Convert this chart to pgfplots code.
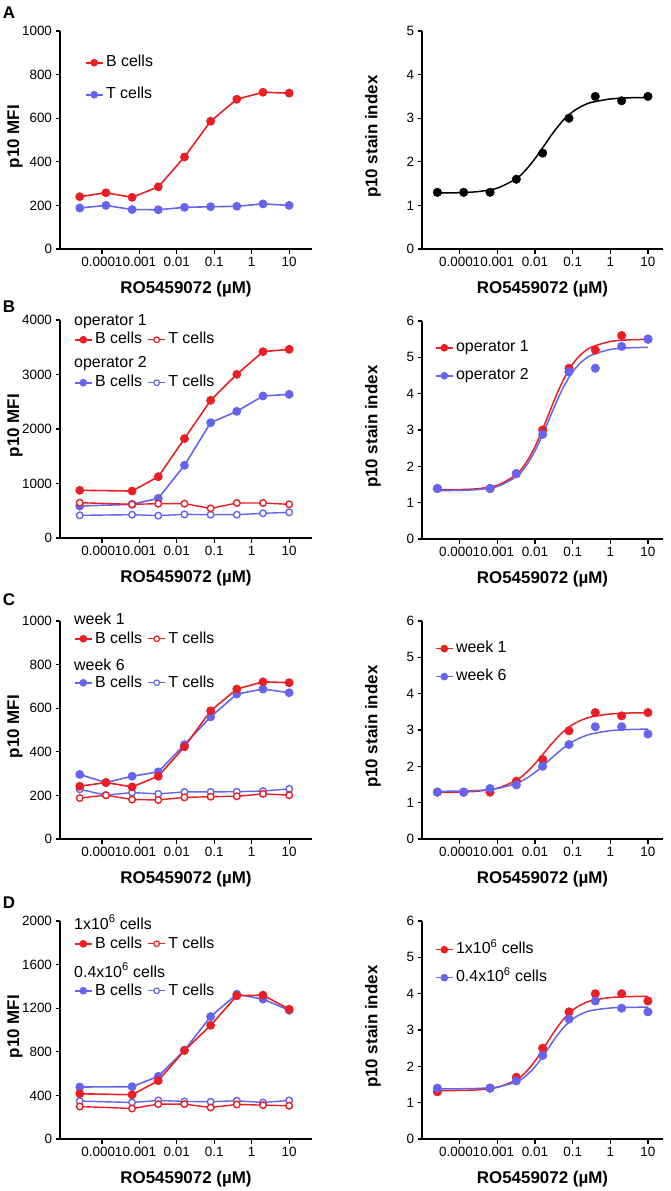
\documentclass[border=0pt]{standalone}
\usepackage{fontspec}
\setmainfont{Liberation Sans}
\usepackage{pgfplots}
\pgfplotsset{compat=1.18}
\definecolor{cred}{RGB}{235,30,36}
\definecolor{cblue}{RGB}{100,100,238}

\pgfplotsset{
 myfB/.style={#1, line width=1.6bp, mark=*, mark size=3.6bp, mark options={fill=#1}},
 myoT/.style={#1, line width=1.4bp, mark=*, mark size=3.3bp, mark options={fill=white}},
 mylgB/.style={#1, line width=1.6bp, mark=*, mark size=3bp, mark options={fill=#1}},
 mylgT/.style={#1, line width=1.2bp, mark=*, mark size=2.8bp, mark options={fill=white}},
 mypts/.style={only marks, mark=*, mark size=4.3bp, #1, mark options={fill=#1}},
 myfit/.style={#1, line width=1.5bp, smooth, no marks},
}
\pgfplotsset{every axis/.append style={
   scale only axis, height=218bp,
   axis lines=left, axis line style={-, line width=1.6bp},
   tick style={black, line width=1.3bp}, tick align=outside,
   major tick length=4.5bp, xminorticks=false, yminorticks=false,
   xtick={1e-4,1e-3,1e-2,1e-1,1,10}, xticklabels={0.0001,0.001,0.01,0.1,1,10},
   ymin=0, scaled y ticks=false,
   yticklabel style={/pgf/number format/assume math mode=true, /pgf/number format/1000 sep={}},
   tick label style={font=\fontsize{13.5}{15}\selectfont},
   xlabel={RO5459072 (µM)},
   xlabel style={font=\bfseries\fontsize{17}{19}\selectfont, at={(axis description cs:0.5,0)}, anchor=base, yshift=-44bp},
   ylabel style={font=\bfseries\fontsize{17}{19}\selectfont, anchor=center},
   clip=false,
   legend style={draw=none, fill=none, inner sep=0pt, outer sep=0pt, anchor=north west,
     font=\fontsize{16}{18}\selectfont,
     nodes={inner ysep=0pt, inner xsep=2.5bp, text height=12bp, text depth=3.5bp},
     /tikz/every even column/.append style={column sep=3bp}},
   legend cell align=left,
}}
\newcommand{\hdr}{\fontsize{16}{18}\selectfont}
\begin{document}
\begin{tikzpicture}

% ---------------- A left
\begin{axis}[xmode=log, width=252bp, xmin=7.6e-6, xmax=40.7, ylabel={p10 MFI},
  ylabel style={at={(axis description cs:-0.179,0.515)}},
  at={(60bp,-249bp)}, anchor=south west, ymax=1000, ytick={0,200,...,1000},
  legend style={at={(0.099,0.89)}, row sep=16.5bp}]
\addlegendimage{mylgB=cred}\addlegendentry{B cells}
\addlegendimage{mylgB=cblue}\addlegendentry{T cells}
\addplot[myfB=cblue, forget plot] coordinates {(2.56e-5,188)(1.28e-4,200)(6.4e-4,181)(3.2e-3,180)(1.6e-2,191)(8e-2,194)(0.4,196)(2,207)(10,200)};
\addplot[myfB=cred, forget plot] coordinates {(2.56e-5,240)(1.28e-4,258)(6.4e-4,237)(3.2e-3,285)(1.6e-2,422)(8e-2,586)(0.4,687)(2,719)(10,715)};
\end{axis}

% ---------------- A right
\begin{axis}[xmode=log, width=241bp, xmin=1e-5, xmax=25.1, ylabel={p10 stain index},
  ylabel style={at={(axis description cs:-0.203,0.515)}},
  at={(422bp,-249bp)}, anchor=south west, ymax=5, ytick={0,1,...,5}]
\addplot[myfit=black] coordinates {(2.56e-5,1.283)(1e-4,1.292)(3.162e-4,1.318)(1e-3,1.397)(3.162e-3,1.612)(5.623e-3,1.808)(1e-2,2.072)(1.778e-2,2.38)(3.162e-2,2.688)(5.623e-2,2.952)(0.1,3.147)(0.1778,3.28)(0.3162,3.363)(1,3.441)(3.162,3.468)(10,3.476)};
\addplot[mypts=black] coordinates {(2.56e-5,1.3)(1.28e-4,1.3)(6.4e-4,1.3)(3.2e-3,1.6)(1.6e-2,2.2)(8e-2,3.0)(0.4,3.5)(2,3.4)(10,3.5)};
\end{axis}

% ---------------- B left
\begin{axis}[xmode=log, width=252bp, xmin=7.6e-6, xmax=40.7, ylabel={p10 MFI},
  ylabel style={at={(axis description cs:-0.179,0.515)}},
  at={(60bp,-538bp)}, anchor=south west, ymax=4000, ytick={0,1000,...,4000},
  legend columns=2, legend style={at={(0.0556,0.945)}, row sep=27.5bp}]
\addlegendimage{mylgB=cred}\addlegendentry{B cells}
\addlegendimage{mylgT=cred}\addlegendentry{T cells}
\addlegendimage{mylgB=cblue}\addlegendentry{B cells}
\addlegendimage{mylgT=cblue}\addlegendentry{T cells}
\addplot[myoT=cblue, forget plot] coordinates {(2.56e-5,416)(6.4e-4,428)(3.2e-3,410)(1.6e-2,434)(8e-2,428)(0.4,428)(2,453)(10,471)};
\addplot[myfB=cblue, forget plot] coordinates {(2.56e-5,587)(6.4e-4,618)(3.2e-3,728)(1.6e-2,1333)(8e-2,2116)(0.4,2324)(2,2606)(10,2636)};
\addplot[myoT=cred, forget plot] coordinates {(2.56e-5,648)(6.4e-4,618)(3.2e-3,630)(1.6e-2,630)(8e-2,544)(0.4,642)(2,642)(10,618)};
\addplot[myfB=cred, forget plot] coordinates {(2.56e-5,875)(6.4e-4,862)(3.2e-3,1125)(1.6e-2,1823)(8e-2,2526)(0.4,3003)(2,3419)(10,3462)};
\node[anchor=base west, inner sep=0pt, font=\hdr] at (rel axis cs:0.0556,0.977) {operator 1};
\node[anchor=base west, inner sep=0pt, font=\hdr] at (rel axis cs:0.0556,0.784) {operator 2};
\end{axis}

% ---------------- B right
\begin{axis}[xmode=log, width=241bp, xmin=1e-5, xmax=25.1, ylabel={p10 stain index},
  ylabel style={at={(axis description cs:-0.203,0.515)}},
  at={(422bp,-539bp)}, anchor=south west, ymax=6, ytick={0,1,...,6},
  legend style={at={(0.054,0.913)}, row sep=12.5bp}]
\addlegendimage{mylgB=cred}\addlegendentry{operator 1}
\addlegendimage{mylgB=cblue}\addlegendentry{operator 2}
\addplot[myfit=cred, forget plot] coordinates {(2.56e-5,1.352)(1e-4,1.36)(3.162e-4,1.387)(1e-3,1.478)(3.162e-3,1.772)(5.623e-3,2.079)(1e-2,2.539)(1.778e-2,3.138)(3.162e-2,3.789)(5.623e-2,4.374)(0.1,4.815)(0.1778,5.106)(0.3162,5.281)(1,5.436)(3.162,5.482)(10,5.495)};
\addplot[myfit=cblue, forget plot] coordinates {(2.56e-5,1.332)(1e-4,1.339)(3.162e-4,1.363)(1e-3,1.446)(3.162e-3,1.714)(5.623e-3,1.996)(1e-2,2.422)(1.778e-2,2.983)(3.162e-2,3.603)(5.623e-2,4.168)(0.1,4.6)(0.1778,4.887)(0.3162,5.061)(1,5.216)(3.162,5.262)(10,5.275)};
\addplot[mypts=cred, forget plot] coordinates {(2.56e-5,1.39)(6.4e-4,1.39)(3.2e-3,1.8)(1.6e-2,3.0)(8e-2,4.7)(0.4,5.2)(2,5.6)(10,5.5)};
\addplot[mypts=cblue, forget plot] coordinates {(2.56e-5,1.39)(6.4e-4,1.39)(3.2e-3,1.8)(1.6e-2,2.88)(8e-2,4.6)(0.4,4.7)(2,5.3)(10,5.5)};
\end{axis}

% ---------------- C left
\begin{axis}[xmode=log, width=252bp, xmin=7.6e-6, xmax=40.7, ylabel={p10 MFI},
  ylabel style={at={(axis description cs:-0.179,0.515)}},
  at={(60bp,-839bp)}, anchor=south west, ymax=1000, ytick={0,200,...,1000},
  legend columns=2, legend style={at={(0.0556,0.954)}, row sep=28.5bp}]
\addlegendimage{mylgB=cred}\addlegendentry{B cells}
\addlegendimage{mylgT=cred}\addlegendentry{T cells}
\addlegendimage{mylgB=cblue}\addlegendentry{B cells}
\addlegendimage{mylgT=cblue}\addlegendentry{T cells}
\addplot[myoT=cblue, forget plot] coordinates {(2.56e-5,228)(1.28e-4,201)(6.4e-4,213)(3.2e-3,207)(1.6e-2,216)(8e-2,216)(0.4,217)(2,220)(10,230)};
\addplot[myfB=cblue, forget plot] coordinates {(2.56e-5,296)(1.28e-4,259)(6.4e-4,288)(3.2e-3,308)(1.6e-2,433)(8e-2,560)(0.4,665)(2,688)(10,671)};
\addplot[myoT=cred, forget plot] coordinates {(2.56e-5,188)(1.28e-4,201)(6.4e-4,181)(3.2e-3,179)(1.6e-2,191)(8e-2,194)(0.4,196)(2,207)(10,201)};
\addplot[myfB=cred, forget plot] coordinates {(2.56e-5,242)(1.28e-4,259)(6.4e-4,239)(3.2e-3,288)(1.6e-2,423)(8e-2,588)(0.4,688)(2,721)(10,717)};
\node[anchor=base west, inner sep=0pt, font=\hdr] at (rel axis cs:0.0556,0.982) {week 1};
\node[anchor=base west, inner sep=0pt, font=\hdr] at (rel axis cs:0.0556,0.775) {week 6};
\end{axis}

% ---------------- C right
\begin{axis}[xmode=log, width=241bp, xmin=1e-5, xmax=25.1, ylabel={p10 stain index},
  ylabel style={at={(axis description cs:-0.203,0.515)}},
  at={(422bp,-839bp)}, anchor=south west, ymax=6, ytick={0,1,...,6},
  legend style={at={(0.054,0.909)}, row sep=12.5bp}]
\addlegendimage{mylgB=cred}\addlegendentry{week 1}
\addlegendimage{mylgB=cblue}\addlegendentry{week 6}
\addplot[myfit=cred, forget plot] coordinates {(2.56e-5,1.283)(1e-4,1.292)(3.162e-4,1.318)(1e-3,1.397)(3.162e-3,1.612)(5.623e-3,1.808)(1e-2,2.072)(1.778e-2,2.38)(3.162e-2,2.688)(5.623e-2,2.952)(0.1,3.147)(0.1778,3.28)(0.3162,3.363)(1,3.441)(3.162,3.468)(10,3.476)};
\addplot[myfit=cblue, forget plot] coordinates {(2.56e-5,1.3125)(1e-4,1.319)(3.162e-4,1.338)(1e-3,1.39)(3.162e-3,1.529)(5.623e-3,1.656)(1e-2,1.832)(1.778e-2,2.049)(3.162e-2,2.282)(5.623e-2,2.5)(0.1,2.678)(0.1778,2.807)(0.3162,2.893)(1,2.982)(3.162,3.013)(10,3.025)};
\addplot[mypts=cred, forget plot] coordinates {(2.56e-5,1.29)(1.28e-4,1.29)(6.4e-4,1.29)(3.2e-3,1.59)(1.6e-2,2.19)(8e-2,2.98)(0.4,3.48)(2,3.39)(10,3.48)};
\addplot[mypts=cblue, forget plot] coordinates {(2.56e-5,1.29)(1.28e-4,1.29)(6.4e-4,1.39)(3.2e-3,1.49)(1.6e-2,2.0)(8e-2,2.6)(0.4,3.09)(2,3.09)(10,2.89)};
\end{axis}

% ---------------- D left
\begin{axis}[xmode=log, width=252bp, xmin=7.6e-6, xmax=40.7, ylabel={p10 MFI},
  ylabel style={at={(axis description cs:-0.179,0.515)}},
  at={(60bp,-1139bp)}, anchor=south west, ymax=2000, ytick={0,400,...,2000},
  legend columns=2, legend style={at={(0.0556,0.931)}, row sep=31.5bp}]
\addlegendimage{mylgB=cred}\addlegendentry{B cells}
\addlegendimage{mylgT=cred}\addlegendentry{T cells}
\addlegendimage{mylgB=cblue}\addlegendentry{B cells}
\addlegendimage{mylgT=cblue}\addlegendentry{T cells}
\addplot[myoT=cblue, forget plot] coordinates {(2.56e-5,348)(6.4e-4,335)(3.2e-3,354)(1.6e-2,345)(8e-2,342)(0.4,351)(2,335)(10,354)};
\addplot[myfB=cblue, forget plot] coordinates {(2.56e-5,477)(6.4e-4,480)(3.2e-3,575)(1.6e-2,815)(8e-2,1123)(0.4,1329)(2,1283)(10,1181)};
\addplot[myoT=cred, forget plot] coordinates {(2.56e-5,298)(6.4e-4,280)(3.2e-3,320)(1.6e-2,320)(8e-2,289)(0.4,317)(2,311)(10,305)};
\addplot[myfB=cred, forget plot] coordinates {(2.56e-5,415)(6.4e-4,406)(3.2e-3,535)(1.6e-2,812)(8e-2,1043)(0.4,1314)(2,1320)(10,1191)};
\node[anchor=base west, inner sep=0pt, font=\hdr] at (rel axis cs:0.0556,0.963) {1x10\textsuperscript{6} cells};
\node[anchor=base west, inner sep=0pt, font=\hdr] at (rel axis cs:0.0556,0.743) {0.4x10\textsuperscript{6} cells};
\end{axis}

% ---------------- D right
\begin{axis}[xmode=log, width=241bp, xmin=1e-5, xmax=25.1, ylabel={p10 stain index},
  ylabel style={at={(axis description cs:-0.203,0.515)}},
  at={(422bp,-1139bp)}, anchor=south west, ymax=6, ytick={0,1,...,6},
  legend style={at={(0.054,0.904)}, row sep=12.5bp}]
\addlegendimage{mylgB=cred}\addlegendentry{1x10\textsuperscript{6} cells}
\addlegendimage{mylgB=cblue}\addlegendentry{0.4x10\textsuperscript{6} cells}
\addplot[myfit=cred, forget plot] coordinates {(2.56e-5,1.332)(1e-4,1.337)(3.162e-4,1.356)(1e-3,1.421)(3.162e-3,1.626)(5.623e-3,1.837)(1e-2,2.144)(1.778e-2,2.531)(3.162e-2,2.937)(5.623e-2,3.288)(0.1,3.545)(0.1778,3.71)(0.3162,3.808)(1,3.894)(3.162,3.92)(10,3.927)};
\addplot[myfit=cblue, forget plot] coordinates {(2.56e-5,1.381)(1e-4,1.383)(3.162e-4,1.393)(1e-3,1.431)(3.162e-3,1.571)(5.623e-3,1.732)(1e-2,1.988)(1.778e-2,2.335)(3.162e-2,2.72)(5.623e-2,3.059)(0.1,3.302)(0.1778,3.453)(0.3162,3.538)(1,3.606)(3.162,3.624)(10,3.628)};
\addplot[mypts=cred, forget plot] coordinates {(2.56e-5,1.3)(6.4e-4,1.4)(3.2e-3,1.7)(1.6e-2,2.5)(8e-2,3.5)(0.4,4.0)(2,4.0)(10,3.8)};
\addplot[mypts=cblue, forget plot] coordinates {(2.56e-5,1.4)(6.4e-4,1.4)(3.2e-3,1.6)(1.6e-2,2.3)(8e-2,3.3)(0.4,3.8)(2,3.6)(10,3.5)};
\end{axis}

% panel letters
\node[font=\bfseries\fontsize{17}{19}\selectfont] at (9bp,-13bp) {A};
\node[font=\bfseries\fontsize{17}{19}\selectfont] at (9bp,-307bp) {B};
\node[font=\bfseries\fontsize{17}{19}\selectfont] at (9bp,-600bp) {C};
\node[font=\bfseries\fontsize{17}{19}\selectfont] at (9bp,-903bp) {D};

\pgfresetboundingbox
\path[use as bounding box] (0,0) rectangle (671bp,-1191bp);
\end{tikzpicture}
\end{document}
